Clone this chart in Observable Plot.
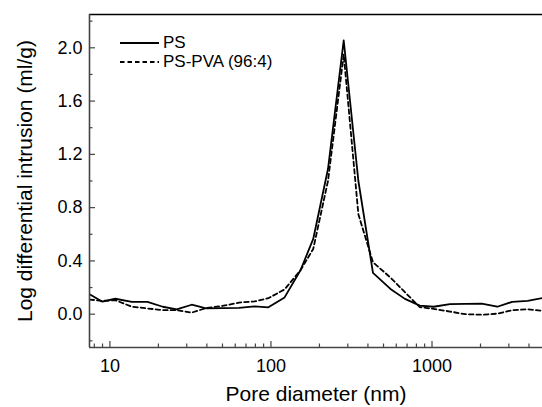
<!DOCTYPE html>
<html><head><meta charset="utf-8">
<script src="https://cdn.jsdelivr.net/npm/d3@7"></script>
<script src="https://cdn.jsdelivr.net/npm/@observablehq/plot@0.6"></script>
<style>
body{margin:0;background:#fff;}
#wrap{position:relative;width:542px;height:407px;overflow:hidden;font-family:"Liberation Sans",Arial,sans-serif;}
#legend{position:absolute;left:120px;top:33px;font-size:17px;line-height:19px;color:#000;}
#legend div{display:flex;align-items:center;height:19px;}
#legend svg{margin-right:3px;}
</style></head><body><div id="wrap"><div id="legend"></div></div>
<script>
const poreDiameter = [7.48, 8.98, 10.8, 13.7, 17.1, 21.3, 26.0, 32.2, 39.6, 50, 63.3, 79.1, 96.4, 121.5, 152.5, 183, 226, 283, 349, 430, 552, 679, 840, 1023, 1292, 1611, 2035, 2543, 3143, 3923, 4853];
const psValues = [0.15, 0.094, 0.116, 0.093, 0.093, 0.056, 0.036, 0.071, 0.044, 0.046, 0.048, 0.058, 0.052, 0.126, 0.33, 0.565, 1.09, 2.055, 1.0, 0.31, 0.19, 0.115, 0.064, 0.056, 0.075, 0.078, 0.08, 0.056, 0.093, 0.1, 0.122];
const pvaValues = [0.11, 0.10, 0.105, 0.056, 0.043, 0.031, 0.03, 0.012, 0.046, 0.062, 0.087, 0.096, 0.12, 0.186, 0.33, 0.49, 1.0, 1.95, 0.75, 0.39, 0.275, 0.165, 0.053, 0.04, 0.02, 0.0, -0.004, 0.004, 0.03, 0.037, 0.025];
const seriesNames = ["PS", "PS-PVA (96:4)"];
const seriesDash = [null, "4.5,3"];
const xMajorTicks = [10, 100, 1000];
const xMinorTicks = [8, 9, 20, 30, 40, 50, 60, 70, 80, 90, 200, 300, 400, 500, 600, 700, 800, 900, 2000, 3000, 4000];
const yMajorTicks = [0, 0.4, 0.8, 1.2, 1.6, 2.0];
const yMinorTicks = [-0.2, 0.2, 0.6, 1.0, 1.4, 1.8, 2.2];
const xTitle = "Pore diameter (nm)";
const yTitle = "Log differential intrusion (ml/g)";
const xDomain = [7.47, 4853];
const yDomain = [-0.25, 2.25];

const rows = [];
poreDiameter.forEach((d, i) => {
  rows.push({d, v: psValues[i], s: seriesNames[0]});
  rows.push({d, v: pvaValues[i], s: seriesNames[1]});
});
const axisColor = "#444";

const chart = Plot.plot({
  width: 542, height: 407,
  marginLeft: 89, marginRight: 0, marginTop: 14, marginBottom: 60,
  style: {fontFamily: "Liberation Sans, Arial, sans-serif", fontSize: "18px", color: "#000", background: "#fff"},
  x: {type: "log", domain: xDomain},
  y: {domain: yDomain},
  marks: [
    Plot.line(rows.filter(r => r.s === seriesNames[0]), {x: "d", y: "v", stroke: "#000", strokeWidth: 1.8, clip: true}),
    Plot.line(rows.filter(r => r.s === seriesNames[1]), {x: "d", y: "v", stroke: "#000", strokeWidth: 1.8, strokeDasharray: seriesDash[1], clip: true}),
    Plot.ruleY([yDomain[1]], {stroke: "#000", strokeWidth: 1.6}),
    Plot.ruleX([xDomain[0]], {stroke: axisColor, strokeWidth: 1.6}),
    Plot.ruleY([yDomain[0]], {stroke: axisColor, strokeWidth: 1.6}),
    Plot.axisX(xMajorTicks, {tickSize: -6, tickPadding: 18, tickFormat: d => String(d), stroke: axisColor, strokeWidth: 1.2, label: null}),
    Plot.axisX(xMinorTicks, {tickSize: -3.5, tickFormat: () => "", stroke: axisColor, strokeWidth: 1.2, label: null}),
    Plot.axisY(yMajorTicks, {tickSize: -6, tickPadding: 13, tickFormat: d => d.toFixed(1), stroke: axisColor, strokeWidth: 1.2, label: null}),
    Plot.axisY(yMinorTicks, {tickSize: -3.5, tickFormat: () => "", stroke: axisColor, strokeWidth: 1.2, label: null}),
    Plot.text([xTitle], {text: d => d, frameAnchor: "bottom", textAnchor: "middle", dy: 53, fontSize: 21}),
    Plot.text([yTitle], {text: d => d, frameAnchor: "left", textAnchor: "middle", rotate: -90, dx: -64, fontSize: 21})
  ]
});
document.getElementById("wrap").prepend(chart);

const legend = document.getElementById("legend");
seriesNames.forEach((name, i) => {
  const row = document.createElement("div");
  row.innerHTML = `<svg width="40" height="6"><line x1="0" x2="39" y1="3" y2="3" stroke="#000" stroke-width="1.8" ${seriesDash[i] ? `stroke-dasharray="${seriesDash[i]}"` : ""}/></svg><span>${name}</span>`;
  legend.appendChild(row);
});
</script>
</body></html>
